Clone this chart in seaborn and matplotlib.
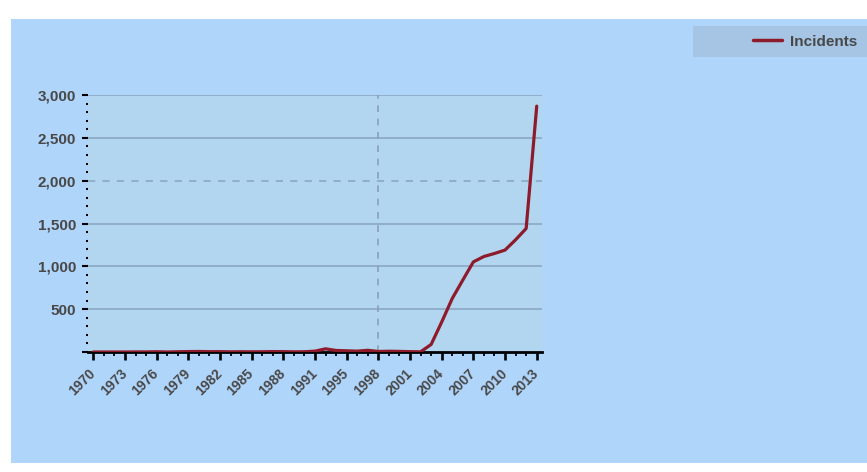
import matplotlib
matplotlib.use("Agg")
import matplotlib.pyplot as plt
from matplotlib.patches import Rectangle
from matplotlib.ticker import MultipleLocator, FixedLocator
from matplotlib.transforms import ScaledTranslation
import seaborn as sns
import pandas as pd

# ---------------- data ----------------
years = [str(y) for y in list(range(1970, 1993)) + list(range(1994, 2014))]
incidents = [0, 0, 0, 0, 1, 1, 3, 0, 3, 5, 6, 4, 4, 2, 3, 2, 3, 5, 4, 2, 3, 10, 37,
             18, 14, 10, 20, 6, 9, 7, 4, 2, 88, 350, 625, 840, 1052, 1115, 1150,
             1190, 1310, 1442, 2870]
series_name = "Incidents"
highlight_year = "1998"
dashed_grid_value = 2000
y_major = [0, 500, 1000, 1500, 2000, 2500, 3000]
label_every = 3

df = pd.DataFrame({"year": years, "incidents": incidents})

# ---------------- style ----------------
sns.set_style("white")
plt.rcParams["font.family"] = ["Liberation Sans", "DejaVu Sans"]
TEXT = "#484848"
BG_BLUE = "#b0d5fa"
PLOT_BLUE = "#b2d6f0"
LEGEND_BLUE = "#a6c5e4"
GRID = "#8eaac6"
LINE = "#8e1b2c"

fig = plt.figure(figsize=(8.67, 4.72), dpi=100, facecolor="white")
fig.patches.append(Rectangle((11 / 867, 9 / 472), 1 - 11 / 867, 444 / 472,
                             transform=fig.transFigure, facecolor=BG_BLUE,
                             edgecolor="none", zorder=-10))
fig.patches.append(Rectangle((693 / 867, 415 / 472), 174 / 867, 31 / 472,
                             transform=fig.transFigure, facecolor=LEGEND_BLUE,
                             edgecolor="none", zorder=-9))

ax = fig.add_axes([88 / 867, 120 / 472, 454 / 867, 257 / 472])
ax.set_facecolor(PLOT_BLUE)

sns.lineplot(data=df, x="year", y="incidents", color=LINE, linewidth=2.3,
             label=series_name, ax=ax, sort=False)

n = len(years)
ax.set_xlim(-0.5, n - 0.5)
ax.set_ylim(0, 3000)

# x ticks
ax.xaxis.set_major_locator(FixedLocator(list(range(0, n, label_every))))
ax.xaxis.set_minor_locator(FixedLocator(list(range(n))))
ax.set_xticklabels(years[::label_every], rotation=45, ha="right", va="center",
                   rotation_mode="anchor", fontsize=10, fontweight="bold",
                   color=TEXT)
offset = ScaledTranslation(5.5 / 100, 0, fig.dpi_scale_trans)
for lab in ax.get_xticklabels():
    lab.set_transform(lab.get_transform() + offset)

# y ticks
ax.set_yticks(y_major)
ax.set_yticklabels(["" if v == 0 else f"{v:,}" for v in y_major],
                   fontsize=11, fontweight="bold", color=TEXT)
ax.yaxis.set_minor_locator(MultipleLocator(100))

ax.tick_params(axis="x", which="major", direction="out", length=5.5, width=1.9,
               color="black", pad=8.5, bottom=True)
ax.tick_params(axis="x", which="minor", direction="out", length=2.9, width=1.3,
               color="black", bottom=True)
ax.tick_params(axis="y", which="major", direction="out", length=4.3, width=1.5,
               color="black", pad=4.3, left=True)
ax.tick_params(axis="y", which="minor", direction="out", length=1.5, width=1.5,
               color="black", left=True)

for s in ["top", "right", "left"]:
    ax.spines[s].set_visible(False)
ax.spines["bottom"].set_linewidth(2.0)
ax.spines["bottom"].set_color("black")
ax.spines["bottom"].set_zorder(1.5)

# grid
ax.set_axisbelow(True)
ax.yaxis.grid(True, color=GRID, linewidth=1.3)
ax.xaxis.grid(False)
for v, gl in zip(y_major, ax.get_ygridlines()):
    if v == dashed_grid_value:
        gl.set_linestyle((0, (4, 4)))
    if v == 0:
        gl.set_visible(False)

ax.axvline(years.index(highlight_year), color="#8b9fb4", linewidth=1.2,
           linestyle=(0, (4, 4)), zorder=1)

ax.set_xlabel("")
ax.set_ylabel("")

leg = ax.legend(loc="center left", bbox_to_anchor=(753 / 867, 1 - 41.5 / 472),
                bbox_transform=fig.transFigure, frameon=False, borderpad=0,
                borderaxespad=0, handlelength=1.9, handletextpad=0.5,
                prop={"family": ["Liberation Sans"], "weight": "bold", "size": 11})
for t in leg.get_texts():
    t.set_color(TEXT)
for h in leg.get_lines():
    h.set_linewidth(2.5)

fig.savefig("out.png", dpi=100, facecolor="white")
